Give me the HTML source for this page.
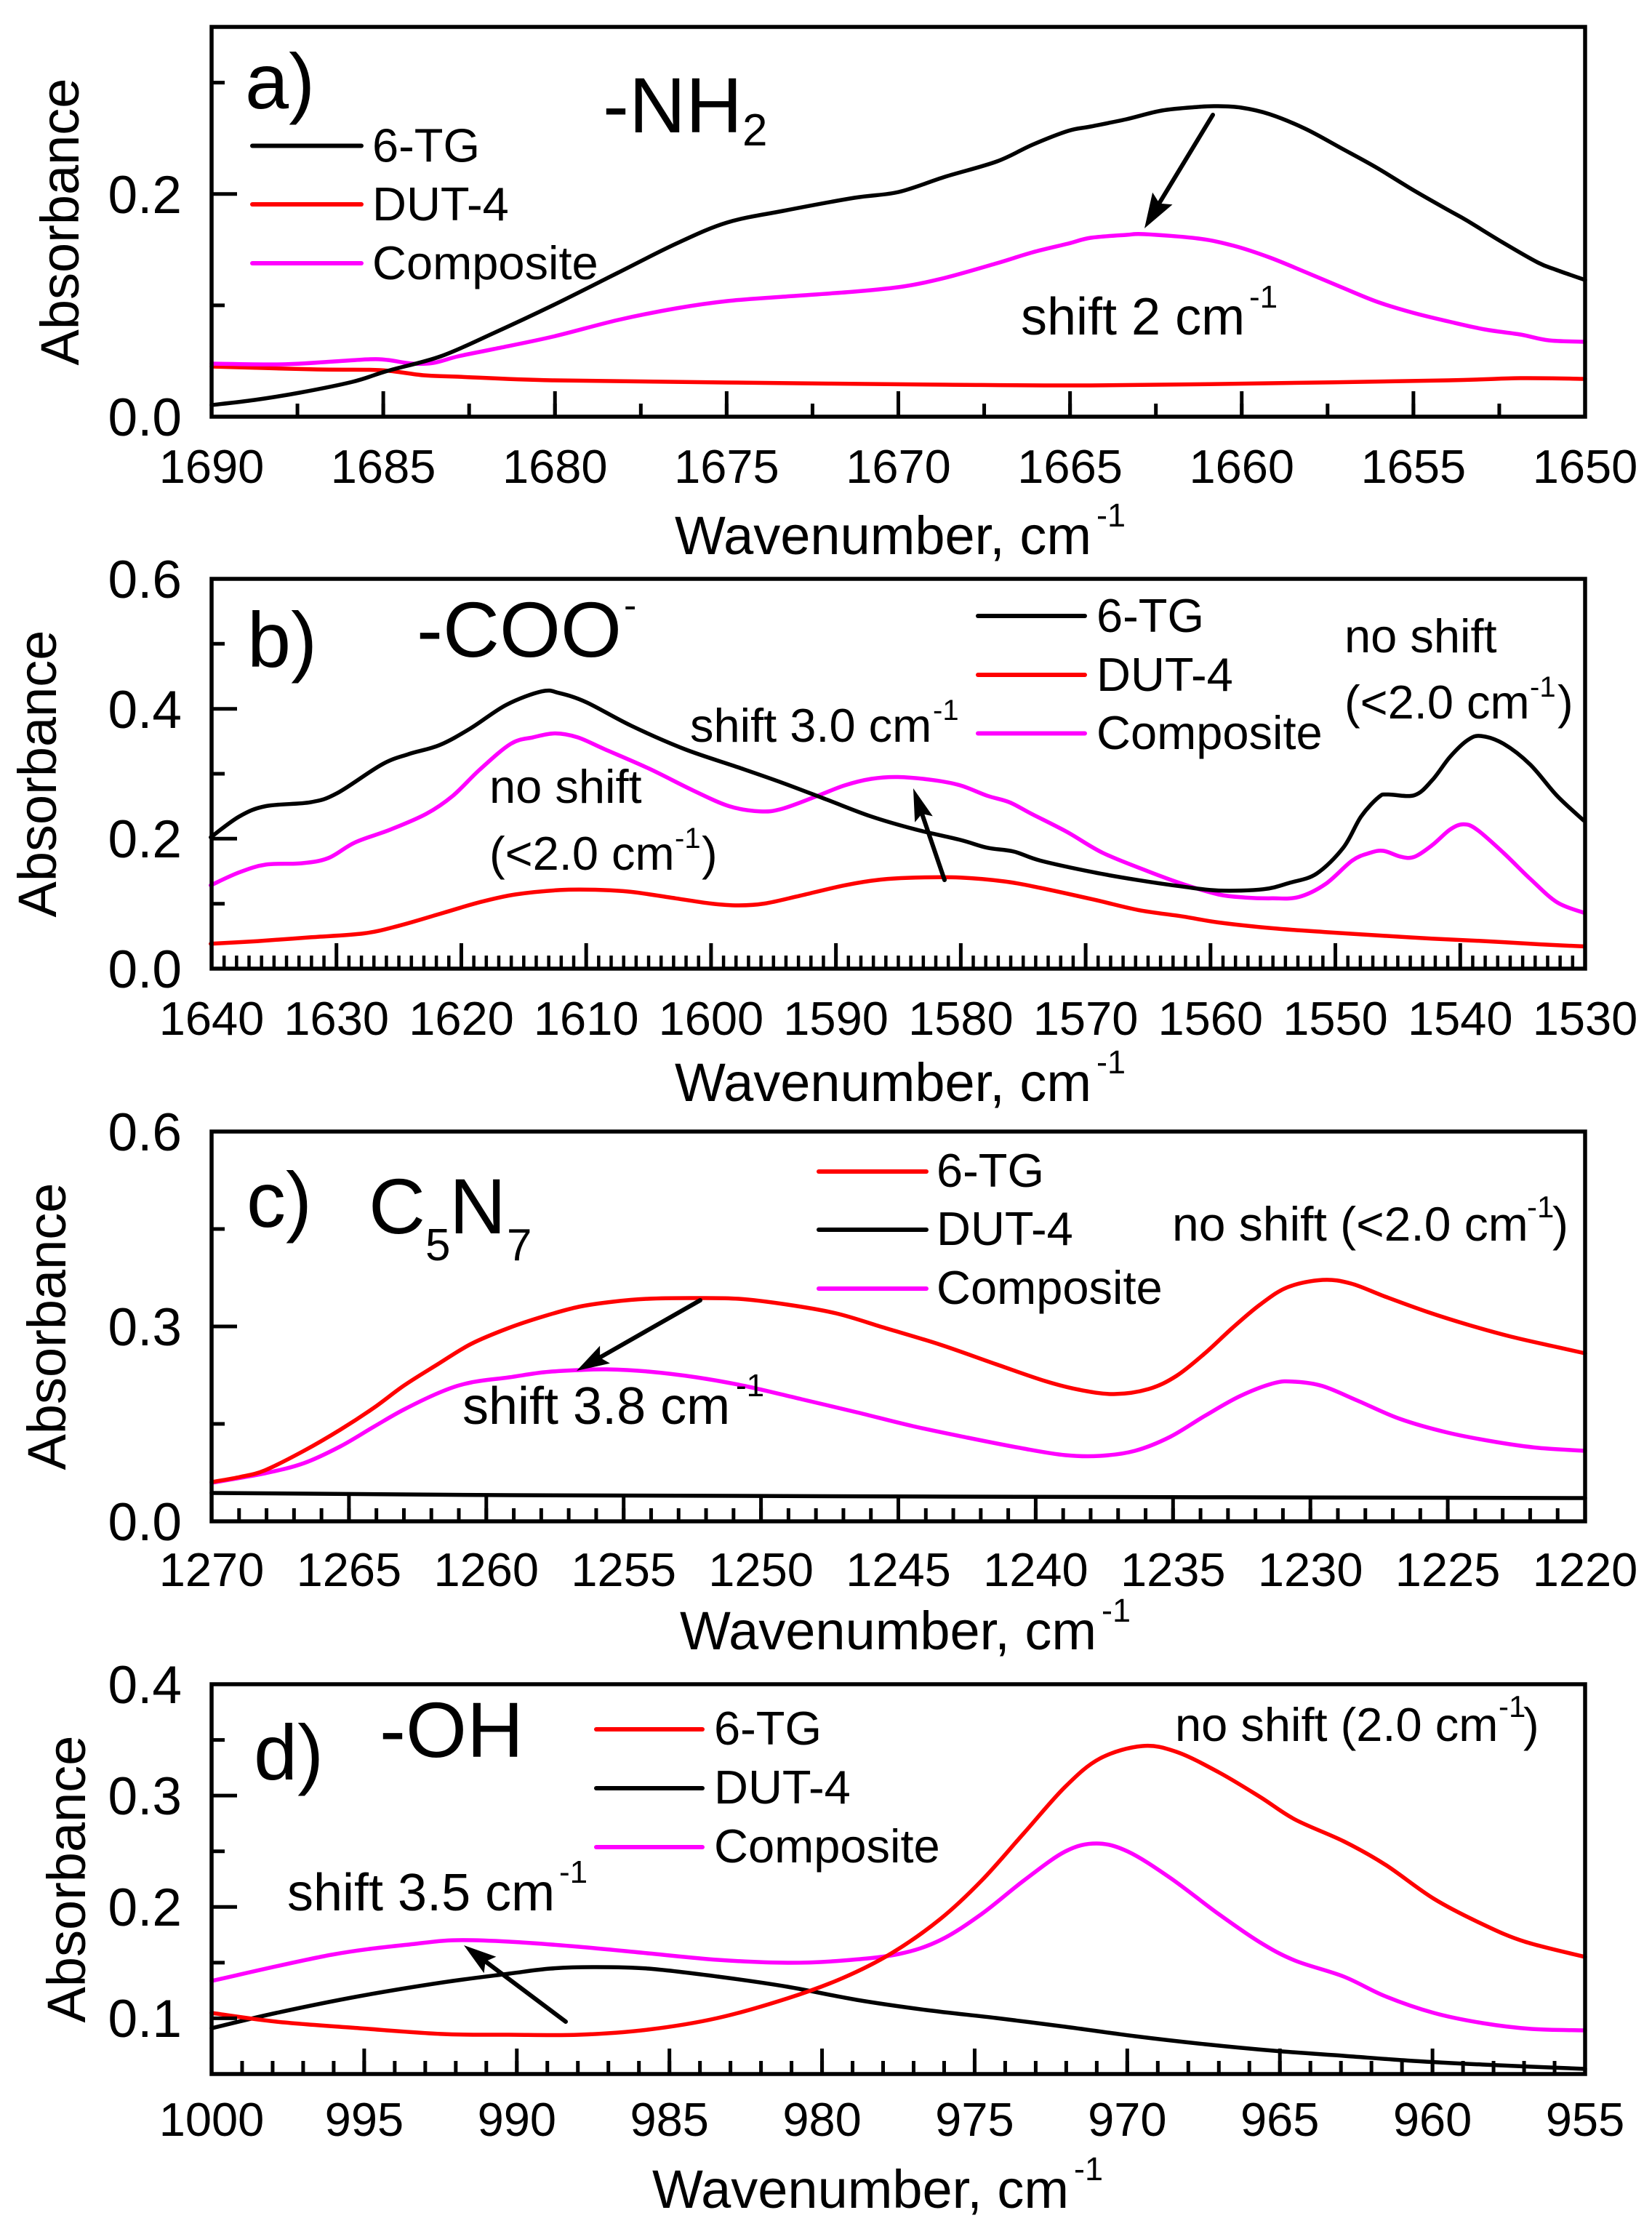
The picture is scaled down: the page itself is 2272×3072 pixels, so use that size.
<!DOCTYPE html>
<html>
<head>
<meta charset="utf-8">
<style>
html,body{margin:0;padding:0;background:#fff;}
svg{display:block;}
text{font-family:"Liberation Sans",Arial,sans-serif;fill:#000;}
</style>
</head>
<body>
<svg id="chart" width="2272" height="3072" viewBox="0 0 2272 3072" xmlns="http://www.w3.org/2000/svg">
<defs>
<pattern id="pa_min" patternUnits="userSpaceOnUse" x="288.5" y="0" width="118.0625" height="3072"><rect x="0" y="0" width="5" height="3072" fill="#000"/></pattern>
<pattern id="pa_maj" patternUnits="userSpaceOnUse" x="288.5" y="0" width="236.125" height="3072"><rect x="0" y="0" width="5" height="3072" fill="#000"/></pattern>
<pattern id="pb_min" patternUnits="userSpaceOnUse" x="288.75" y="0" width="17.1727" height="3072"><rect x="0" y="0" width="4.5" height="3072" fill="#000"/></pattern>
<pattern id="pb_maj" patternUnits="userSpaceOnUse" x="288.5" y="0" width="171.727" height="3072"><rect x="0" y="0" width="5" height="3072" fill="#000"/></pattern>
<pattern id="pc_min" patternUnits="userSpaceOnUse" x="288.5" y="0" width="37.78" height="3072"><rect x="0" y="0" width="5" height="3072" fill="#000"/></pattern>
<pattern id="pc_maj" patternUnits="userSpaceOnUse" x="288.5" y="0" width="188.9" height="3072"><rect x="0" y="0" width="5" height="3072" fill="#000"/></pattern>
<pattern id="pd_min" patternUnits="userSpaceOnUse" x="288.5" y="0" width="41.978" height="3072"><rect x="0" y="0" width="5" height="3072" fill="#000"/></pattern>
<pattern id="pd_maj" patternUnits="userSpaceOnUse" x="288.5" y="0" width="209.889" height="3072"><rect x="0" y="0" width="5" height="3072" fill="#000"/></pattern>
</defs>
<rect x="0" y="0" width="2272" height="3072" fill="#fff"/>

<!-- ================= PANEL A ================= -->
<g fill="none" stroke-linejoin="round" stroke-linecap="round" stroke-width="5.5">
<polyline class="curve" stroke="#ff0000" points="291,504 436,508 523,509 582,516 630,518 760,523 1000,526 1300,529 1500,530 1746,527 1992,523 2091,520 2180,521"/>
<polyline class="curve" stroke="#ff00ff" points="291,500 388,501 460,497 509,494 533,495 567,500 596,499 630,490 679,480 760,463 850,440 930,424 1000,414 1077,408 1175,401 1242,394 1300,382 1371,362 1420,347 1469,335 1500,327 1549,323 1574,322 1648,328 1697,338 1746,354 1795,374 1845,395 1894,415 1943,430 1992,442 2042,453 2091,460 2130,468 2180,470"/>
<polyline class="curve" stroke="#000" points="291,557 350,550 412,540 485,525 533,510 606,490 679,458 760,420 850,375 930,335 1000,306 1077,290 1175,272 1236,264 1300,243 1371,222 1420,199 1469,180 1500,174 1549,164 1598,152 1648,147 1672,146 1707,148 1746,157 1795,177 1845,204 1894,231 1943,261 1992,289 2017,303 2066,333 2115,361 2140,371 2180,385"/>
</g>
<rect x="288.5" y="555" width="1894" height="18" fill="url(#pa_min)"/>
<rect x="288.5" y="538" width="1894" height="35" fill="url(#pa_maj)"/>
<g stroke="#000" stroke-width="5">
<line x1="291" y1="419.9" x2="309" y2="419.9"/>
<line x1="291" y1="266.7" x2="326" y2="266.7"/>
<line x1="291" y1="113.6" x2="309" y2="113.6"/>
</g>
<rect x="291" y="37" width="1889" height="536" fill="none" stroke="#000" stroke-width="5.5"/>
<line x1="1668" y1="158" x2="1594" y2="280" stroke="#000" stroke-width="6" stroke-linecap="round"/>
<polygon points="1574,314 1612.5,281.2 1594.6,279.7 1585.1,264.6" fill="#000"/>
<g font-size="73" text-anchor="end">
<text x="250" y="599">0.0</text>
<text x="250" y="293">0.2</text>
</g>
<g font-size="65" text-anchor="middle">
<text x="291" y="664">1690</text>
<text x="527.1" y="664">1685</text>
<text x="763.3" y="664">1680</text>
<text x="999.4" y="664">1675</text>
<text x="1235.5" y="664">1670</text>
<text x="1471.6" y="664">1665</text>
<text x="1707.8" y="664">1660</text>
<text x="1943.9" y="664">1655</text>
<text x="2180" y="664">1650</text>
</g>
<text x="928" y="762" font-size="74">Wavenumber, cm</text>
<text x="1508" y="724" font-size="45">-1</text>
<text transform="translate(108,305) rotate(-90)" text-anchor="middle" font-size="74">Absorbance</text>
<text x="337" y="149" font-size="108">a)</text>
<text x="829" y="182" font-size="108">-NH</text>
<text x="1021" y="200" font-size="62">2</text>
<g stroke-width="6" stroke-linecap="round">
<line x1="347" y1="200.5" x2="497" y2="200.5" stroke="#000"/>
<line x1="347" y1="281" x2="497" y2="281" stroke="#ff0000"/>
<line x1="347" y1="362" x2="497" y2="362" stroke="#ff00ff"/>
</g>
<g font-size="65">
<text x="512" y="222.5">6-TG</text>
<text x="512" y="303">DUT-4</text>
<text x="512" y="384">Composite</text>
</g>
<text x="1404" y="460" font-size="72">shift 2 cm</text>
<text x="1718" y="423" font-size="44">-1</text>

<!-- ================= PANEL B ================= -->
<g fill="none" stroke-linejoin="round" stroke-linecap="round" stroke-width="5.5">
<polyline class="curve" stroke="#ff0000" points="289.8,1297.8 353.5,1294.2 426.9,1288.9 500.4,1283.5 549.4,1272.8 610.6,1255 659.6,1240.7 708.6,1230 769.8,1223.9 818.8,1223.5 867.8,1226.4 929,1235.3 978,1242.5 1014.7,1245 1051.4,1242.5 1100.4,1231.7 1161.6,1217.4 1210.6,1209.6 1259.6,1206.7 1320.8,1206.7 1382,1212.1 1431,1221 1504.5,1237.1 1565.7,1251.4 1627,1260.3 1676,1268.5 1749.4,1276.4 1822.9,1281.7 1896.3,1286.4 1969.8,1290.7 2043.3,1294.2 2116.8,1298.5 2178,1301.4"/>
<polyline class="curve" stroke="#ff00ff" points="289.8,1217.4 329,1199.6 365.7,1188.9 414.7,1187.1 451.4,1180 488.2,1158.5 537.1,1140.7 586.1,1119.2 622.9,1094.2 659.6,1058.5 702.5,1022.8 733.1,1013.9 763.7,1008.5 794.3,1013.9 831,1030 892.3,1056.8 953.5,1087.1 1002.5,1108.5 1045.3,1115.7 1075.9,1112.1 1124.9,1094.2 1161.6,1080 1198.4,1071 1235.1,1068.5 1284.1,1072.8 1320.8,1080 1357.6,1094.2 1388.2,1103.2 1418.8,1119.2 1467.8,1144.2 1516.7,1172.8 1578,1197.8 1627,1215.7 1676,1230 1712.7,1234.2 1749.4,1235.3 1786.1,1233.5 1822.9,1215.7 1859.6,1183.5 1884.1,1172.8 1902.5,1170 1927,1178.2 1945.3,1178.2 1969.8,1162.1 1994.3,1140.7 2012.7,1133.5 2031.1,1140.7 2067.8,1172.8 2104.5,1208.5 2141.3,1240.7 2178,1255"/>
<polyline class="curve" stroke="#000" points="289.8,1151.4 329,1122.8 365.7,1108.5 427,1103.2 463.7,1090.7 524.9,1051.4 561.6,1037.1 604.5,1024.6 647.4,1001.4 696.3,969.3 745.3,950.7 769.8,953.2 806.5,965.7 867.8,997.8 941.2,1030 1014.7,1055 1075.9,1076.4 1137.2,1099.6 1198.4,1122.8 1259.6,1140.7 1320.8,1155 1357.6,1165.7 1394.3,1171 1431,1183.5 1504.5,1199.6 1565.7,1210.3 1627,1219.2 1676,1224.6 1737.2,1222.8 1773.9,1213.9 1810.6,1201.4 1847.4,1165.7 1871.9,1122.8 1896.3,1096 1908.6,1092.5 1945.3,1093.5 1969.8,1072.8 1994.3,1040.7 2018.8,1017.5 2037.2,1012.1 2067.8,1022.8 2104.5,1051.4 2141.3,1094.2 2178,1128.2"/>
</g>
<rect x="288.75" y="1314" width="1893" height="18" fill="url(#pb_min)"/>
<rect x="288.5" y="1297" width="1894" height="35" fill="url(#pb_maj)"/>
<g stroke="#000" stroke-width="5">
<line x1="291" y1="1242.7" x2="309" y2="1242.7"/>
<line x1="291" y1="1153.3" x2="326" y2="1153.3"/>
<line x1="291" y1="1064" x2="309" y2="1064"/>
<line x1="291" y1="974.7" x2="326" y2="974.7"/>
<line x1="291" y1="885.3" x2="309" y2="885.3"/>
</g>
<rect x="291" y="796" width="1889" height="536" fill="none" stroke="#000" stroke-width="5.5"/>
<line x1="1299" y1="1210" x2="1268" y2="1119" stroke="#000" stroke-width="6" stroke-linecap="round"/>
<polygon points="1256,1084 1282.8,1122.4 1268,1119 1258.2,1130.8" fill="#000"/>
<g font-size="73" text-anchor="end">
<text x="250" y="1358">0.0</text>
<text x="250" y="1179">0.2</text>
<text x="250" y="1001">0.4</text>
<text x="250" y="822">0.6</text>
</g>
<g font-size="65" text-anchor="middle">
<text x="291" y="1423">1640</text>
<text x="462.7" y="1423">1630</text>
<text x="634.5" y="1423">1620</text>
<text x="806.2" y="1423">1610</text>
<text x="977.9" y="1423">1600</text>
<text x="1149.6" y="1423">1590</text>
<text x="1321.4" y="1423">1580</text>
<text x="1493.1" y="1423">1570</text>
<text x="1664.8" y="1423">1560</text>
<text x="1836.5" y="1423">1550</text>
<text x="2008.3" y="1423">1540</text>
<text x="2180" y="1423">1530</text>
</g>
<text x="928" y="1514" font-size="74">Wavenumber, cm</text>
<text x="1508" y="1476" font-size="45">-1</text>
<text transform="translate(77,1064) rotate(-90)" text-anchor="middle" font-size="74">Absorbance</text>
<text x="340" y="917" font-size="108">b)</text>
<text x="573" y="903" font-size="108">-COO</text>
<text x="858" y="850" font-size="52">-</text>
<g stroke-width="6" stroke-linecap="round">
<line x1="1345" y1="847" x2="1492" y2="847" stroke="#000"/>
<line x1="1345" y1="928" x2="1492" y2="928" stroke="#ff0000"/>
<line x1="1345" y1="1008.5" x2="1492" y2="1008.5" stroke="#ff00ff"/>
</g>
<g font-size="65">
<text x="1508" y="869">6-TG</text>
<text x="1508" y="950">DUT-4</text>
<text x="1508" y="1030">Composite</text>
<text x="949" y="1020">shift 3.0 cm</text>
<text x="1849" y="897">no shift</text>
<text x="1849" y="988">(&lt;2.0 cm</text>
<text x="2142" y="988">)</text>
<text x="673" y="1104">no shift</text>
<text x="673" y="1196">(&lt;2.0 cm</text>
<text x="965" y="1196">)</text>
</g>
<g font-size="40">
<text x="1283" y="990">-1</text>
<text x="2104" y="958">-1</text>
<text x="928" y="1166">-1</text>
</g>

<!-- ================= PANEL C ================= -->
<g fill="none" stroke-linejoin="round" stroke-linecap="round" stroke-width="5.5">
<polyline class="curve" stroke="#000" points="291,2053 700,2056 1300,2058 2180,2060"/>
<polyline class="curve" stroke="#ff00ff" points="291,2039 364,2026 418,2012 468,1989 514,1962 556,1938 609,1913 648,1901 700,1894 748,1887 796,1884 834,1883 891,1886 958,1894 1025,1906 1102,1924 1178,1942 1255,1961 1331,1977 1408,1992 1465,2001 1513,2002 1561,1995 1609,1976 1657,1947 1705,1920 1752,1902 1781,1900 1819,1906 1867,1926 1925,1951 1991,1970 2058,1983 2116,1991 2180,1995"/>
<polyline class="curve" stroke="#ff0000" points="291,2038 330,2031 364,2022 418,1995 468,1966 514,1936 556,1905 602,1876 648,1848 700,1826 748,1810 796,1797 843,1790 891,1786 949,1785 1016,1786 1083,1794 1150,1806 1217,1826 1293,1849 1370,1876 1437,1899 1484,1911 1532,1917 1580,1910 1618,1892 1657,1861 1695,1826 1733,1794 1771,1770 1819,1760 1858,1765 1905,1783 1963,1804 2020,1822 2078,1838 2135,1851 2180,1861"/>
</g>
<rect x="288.5" y="2074" width="1894" height="18" fill="url(#pc_min)"/>
<rect x="288.5" y="2057" width="1894" height="35" fill="url(#pc_maj)"/>
<g stroke="#000" stroke-width="5">
<line x1="291" y1="1958" x2="309" y2="1958"/>
<line x1="291" y1="1824" x2="326" y2="1824"/>
<line x1="291" y1="1690" x2="309" y2="1690"/>
</g>
<rect x="291" y="1556" width="1889" height="536" fill="none" stroke="#000" stroke-width="5.5"/>
<line x1="963" y1="1788" x2="825" y2="1866.7" stroke="#000" stroke-width="6" stroke-linecap="round"/>
<polygon points="793,1885 825.1,1850.6 825.1,1866.7 838.9,1874.8" fill="#000"/>
<g font-size="73" text-anchor="end">
<text x="250" y="2118">0.0</text>
<text x="250" y="1850">0.3</text>
<text x="250" y="1582">0.6</text>
</g>
<g font-size="65" text-anchor="middle">
<text x="291" y="2181">1270</text>
<text x="479.9" y="2181">1265</text>
<text x="668.8" y="2181">1260</text>
<text x="857.7" y="2181">1255</text>
<text x="1046.6" y="2181">1250</text>
<text x="1235.5" y="2181">1245</text>
<text x="1424.4" y="2181">1240</text>
<text x="1613.3" y="2181">1235</text>
<text x="1802.2" y="2181">1230</text>
<text x="1991.1" y="2181">1225</text>
<text x="2180" y="2181">1220</text>
</g>
<text x="935" y="2268" font-size="74">Wavenumber, cm</text>
<text x="1515" y="2230" font-size="45">-1</text>
<text transform="translate(90,1824) rotate(-90)" text-anchor="middle" font-size="74">Absorbance</text>
<text x="339" y="1687" font-size="108">c)</text>
<text x="507" y="1696" font-size="108">C</text>
<text x="585" y="1733" font-size="62">5</text>
<text x="618" y="1696" font-size="108">N</text>
<text x="697" y="1733" font-size="62">7</text>
<g stroke-width="6" stroke-linecap="round">
<line x1="1126" y1="1611" x2="1274" y2="1611" stroke="#ff0000"/>
<line x1="1126" y1="1691" x2="1274" y2="1691" stroke="#000"/>
<line x1="1126" y1="1772" x2="1274" y2="1772" stroke="#ff00ff"/>
</g>
<g font-size="65">
<text x="1288" y="1632">6-TG</text>
<text x="1288" y="1712">DUT-4</text>
<text x="1288" y="1793">Composite</text>
</g>
<text x="1612" y="1706" font-size="66">no shift (&lt;2.0 cm</text>
<text x="2100" y="1674" font-size="42">-1</text>
<text x="2135" y="1706" font-size="66">)</text>
<text x="636" y="1958" font-size="72">shift 3.8 cm</text>
<text x="1012" y="1920" font-size="44">-1</text>

<!-- ================= PANEL D ================= -->
<g fill="none" stroke-linejoin="round" stroke-linecap="round" stroke-width="5.5">
<polyline class="curve" stroke="#000" points="291,2789 380,2768 494,2745 609,2726 700,2714 757,2707 815,2705 891,2707 987,2718 1083,2732 1178,2750 1274,2764 1370,2775 1465,2787 1561,2800 1657,2811 1752,2820 1848,2827 1944,2834 2039,2839 2180,2845"/>
<polyline class="curve" stroke="#ff00ff" points="291,2724 456,2688 571,2673 628,2668 700,2670 796,2677 891,2686 987,2695 1083,2699 1159,2696 1236,2687 1293,2668 1350,2632 1408,2586 1465,2546 1508,2535 1551,2546 1609,2582 1676,2632 1733,2671 1781,2696 1848,2718 1905,2745 1972,2768 2039,2782 2106,2790 2180,2792"/>
<polyline class="curve" stroke="#ff0000" points="291,2768 380,2780 494,2789 609,2797 700,2798 796,2798 891,2791 987,2775 1083,2748 1159,2720 1226,2686 1293,2639 1350,2586 1408,2521 1465,2457 1513,2418 1571,2401 1618,2409 1676,2437 1733,2471 1781,2502 1848,2532 1905,2564 1972,2611 2039,2646 2097,2670 2180,2691"/>
</g>
<rect x="288.5" y="2834" width="1894" height="18" fill="url(#pd_min)"/>
<rect x="288.5" y="2817" width="1894" height="35" fill="url(#pd_maj)"/>
<g stroke="#000" stroke-width="5">
<line x1="291" y1="2775.4" x2="326" y2="2775.4"/>
<line x1="291" y1="2698.9" x2="309" y2="2698.9"/>
<line x1="291" y1="2622.3" x2="326" y2="2622.3"/>
<line x1="291" y1="2545.7" x2="309" y2="2545.7"/>
<line x1="291" y1="2469.1" x2="326" y2="2469.1"/>
<line x1="291" y1="2392.6" x2="309" y2="2392.6"/>
</g>
<rect x="291" y="2316" width="1889" height="536" fill="none" stroke="#000" stroke-width="5.5"/>
<line x1="778" y1="2780" x2="667.6" y2="2697.2" stroke="#000" stroke-width="6" stroke-linecap="round"/>
<polygon points="638,2675 682.4,2690.8 667.6,2697.2 665.6,2713.2" fill="#000"/>
<g font-size="73" text-anchor="end">
<text x="250" y="2801">0.1</text>
<text x="250" y="2648">0.2</text>
<text x="250" y="2495">0.3</text>
<text x="250" y="2342">0.4</text>
</g>
<g font-size="65" text-anchor="middle">
<text x="291" y="2937">1000</text>
<text x="500.9" y="2937">995</text>
<text x="710.8" y="2937">990</text>
<text x="920.7" y="2937">985</text>
<text x="1130.6" y="2937">980</text>
<text x="1340.4" y="2937">975</text>
<text x="1550.3" y="2937">970</text>
<text x="1760.2" y="2937">965</text>
<text x="1970.1" y="2937">960</text>
<text x="2180" y="2937">955</text>
</g>
<text x="897" y="3036" font-size="74">Wavenumber, cm</text>
<text x="1477" y="2998" font-size="45">-1</text>
<text transform="translate(117,2584) rotate(-90)" text-anchor="middle" font-size="74">Absorbance</text>
<text x="349" y="2447" font-size="108">d)</text>
<text x="522" y="2416" font-size="108">-OH</text>
<g stroke-width="6" stroke-linecap="round">
<line x1="820" y1="2378" x2="966" y2="2378" stroke="#ff0000"/>
<line x1="820" y1="2459" x2="966" y2="2459" stroke="#000"/>
<line x1="820" y1="2540" x2="966" y2="2540" stroke="#ff00ff"/>
</g>
<g font-size="65">
<text x="982" y="2399">6-TG</text>
<text x="982" y="2480">DUT-4</text>
<text x="982" y="2561">Composite</text>
<text x="1616" y="2394">no shift (2.0 cm</text>
<text x="2095" y="2394">)</text>
</g>
<text x="2061" y="2361" font-size="42">-1</text>
<text x="395" y="2627" font-size="72">shift 3.5 cm</text>
<text x="769" y="2589" font-size="44">-1</text>
</svg>
<script>
(function(){
  var ns="http://www.w3.org/2000/svg";
  var lines=document.querySelectorAll("polyline.curve");
  for(var k=0;k<lines.length;k++){
    var pl=lines[k];
    var raw=pl.getAttribute("points").trim().split(/\s+/);
    var p=[];
    for(var i=0;i<raw.length;i++){var a=raw[i].split(",");p.push([parseFloat(a[0]),parseFloat(a[1])]);}
    if(p.length<3)continue;
    var d="M"+p[0][0]+","+p[0][1];
    for(var i=0;i<p.length-1;i++){
      var p0=p[i>0?i-1:i],p1=p[i],p2=p[i+1],p3=p[i+2<p.length?i+2:i+1];
      var c1x=p1[0]+(p2[0]-p0[0])/6,c1y=p1[1]+(p2[1]-p0[1])/6;
      var c2x=p2[0]-(p3[0]-p1[0])/6,c2y=p2[1]-(p3[1]-p1[1])/6;
      d+=" C"+c1x.toFixed(2)+","+c1y.toFixed(2)+" "+c2x.toFixed(2)+","+c2y.toFixed(2)+" "+p2[0]+","+p2[1];
    }
    var path=document.createElementNS(ns,"path");
    path.setAttribute("d",d);
    path.setAttribute("stroke",pl.getAttribute("stroke"));
    path.setAttribute("fill","none");
    pl.parentNode.replaceChild(path,pl);
  }
})();
</script>
</body>
</html>
